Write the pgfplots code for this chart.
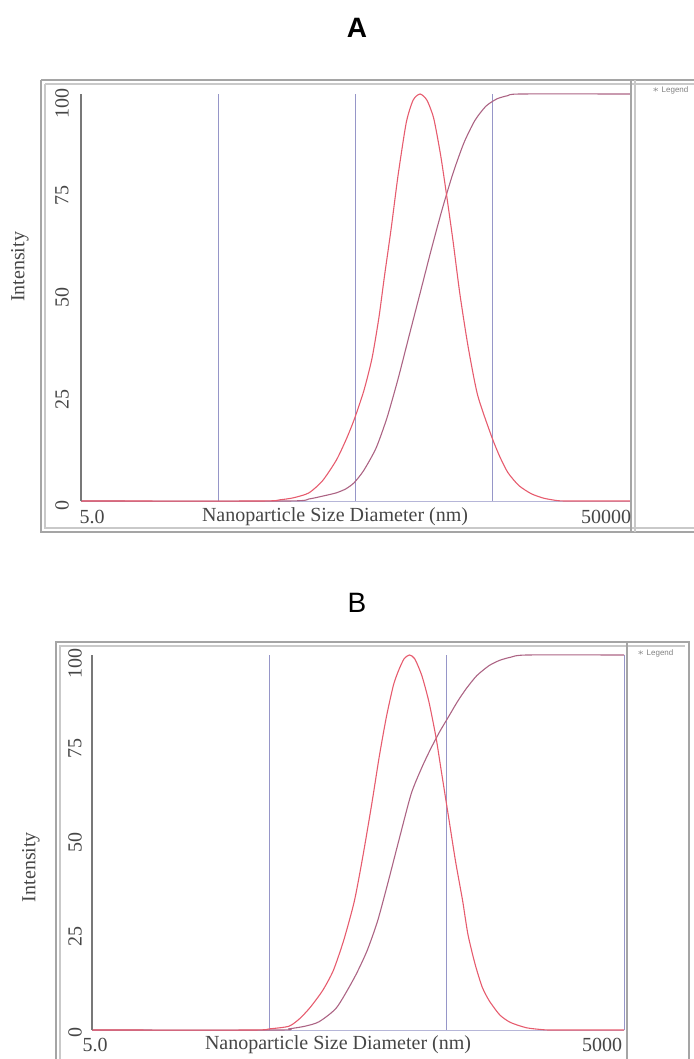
\documentclass[border=0pt]{standalone}
\usepackage{fontspec}
\setmainfont{Liberation Serif}
\newfontfamily\sansf{Liberation Sans}
\usepackage{pgfplots}
\pgfplotsset{compat=1.18}

\definecolor{distc}{RGB}{230,92,110}
\definecolor{cumc}{RGB}{172,100,132}
\definecolor{gridc}{RGB}{150,150,200}
\definecolor{framec}{RGB}{165,165,165}
\definecolor{axisc}{RGB}{120,120,120}
\definecolor{txtc}{RGB}{70,70,70}

\tikzset{
  distline/.style={color=distc, line width=0.55pt, smooth, tension=0.4},
  cumline/.style={color=cumc, line width=0.55pt, smooth, tension=0.4},
  ylab/.style={rotate=90, font=\fontsize{10}{12}\selectfont, text=txtc},
}

\begin{document}
\begin{tikzpicture}[x=0.5pt, y=-0.5pt]
  \path[use as bounding box] (0,0) rectangle (693,1059);

  % ---------------- panel A ----------------
  \node[font=\sansf\bfseries\fontsize{14}{16}\selectfont] at (357,28) {A};
  \draw[framec, line width=1pt] (41,80) -- (700,80);
  \draw[framec, line width=1pt] (41,80) -- (41,532) -- (700,532);
  \draw[framec!60, line width=0.6pt] (45,84) -- (700,84);
  \draw[framec!60, line width=0.6pt] (45,84) -- (45,528) -- (700,528);

  \begin{axis}[
      scale only axis,
      at={(40.5pt,-250.5pt)}, anchor=south west,
      width=274.5pt, height=203.5pt,
      xmode=log, xmin=5, xmax=50000, ymin=0, ymax=100,
      axis line style={draw=none},
      xtick={5,50,500,5000,50000}, xticklabels={},
      minor xtick={}, ytick={0,25,50,75,100}, yticklabels={},
      xmajorgrids, grid style={color=gridc, line width=0.45pt},
      major tick length=0pt, minor tick length=0pt,
      tick style={draw=none},
      clip=false]
    \draw[gridc!70, line width=0.45pt] (axis cs:5,0) -- (axis cs:50000,0);
    \addplot[cumline] coordinates {
      (5,0) (158,0) (229,0.5) (288,1.2) (362,2) (426,3) (489,4.5) (574,7.5)
      (706,13) (849,20.5) (1021,30) (1227,40.5) (1476,51) (1774,61.5)
      (2133,71.5) (2565,80.5) (3083,88) (3706,93.5) (4457,97) (5358,98.8)
      (6441,99.6) (7924,100) (50000,100)
    };
    \addplot[distline] coordinates {
      (5,0) (100,0) (141,0.3) (177,0.8) (229,2) (288,5) (362,10) (426,15)
      (489,20) (574,27) (659,35) (740,45) (811,55) (910,67) (1021,80)
      (1172,93) (1315,98.5) (1476,100) (1656,98.5) (1858,94) (2085,85)
      (2286,76) (2565,64) (2877,51) (3304,38) (3881,26) (4886,16) (5610,11)
      (6441,7) (7745,3.8) (9527,1.8) (11720,0.7) (14757,0.1) (17740,0)
      (50000,0)
    };
    \draw[axisc, line width=0.6pt] (axis cs:5,0) -- (axis cs:5,100);
    \node[xshift=-9.5pt, yshift=-2pt, ylab] at (axis cs:5,0) {0};
    \node[xshift=-9.5pt, ylab] at (axis cs:5,25) {25};
    \node[xshift=-9.5pt, ylab] at (axis cs:5,50) {50};
    \node[xshift=-9.5pt, ylab] at (axis cs:5,75) {75};
    \node[xshift=-9.5pt, yshift=-4.5pt, ylab] at (axis cs:5,100) {100};
  \end{axis}

  \draw[framec, line width=0.8pt] (631,80) -- (631,532);
  \draw[framec!60, line width=0.6pt] (635,80) -- (635,532);
  \node[font=\sansf\fontsize{4}{5}\selectfont, text=gray, anchor=west] at (645,90) {$\ast$ Legend};

  \node[ylab] at (20,267) {Intensity};
  \node[font=\fontsize{10}{12}\selectfont, text=txtc] at (92,517) {5.0};
  \node[font=\fontsize{10}{12}\selectfont, text=txtc] at (606,517) {50000};
  \node[font=\fontsize{10}{12}\selectfont, text=txtc] at (335,517) {Nanoparticle Size Diameter (nm)};

  % ---------------- panel B ----------------
  \node[font=\sansf\fontsize{14}{16}\selectfont] at (357,603) {B};
  \draw[framec, line width=1.2pt] (56,1070) -- (56,642) -- (689,642) -- (689,1070);
  \draw[framec!60, line width=0.6pt] (60,1070) -- (60,646) -- (685,646);

  \begin{axis}[
      scale only axis,
      at={(46pt,-515pt)}, anchor=south west,
      width=266pt, height=187.5pt,
      xmode=log, xmin=5, xmax=5000, ymin=0, ymax=100,
      axis line style={draw=none},
      xtick={5,50,500,5000}, xticklabels={},
      minor xtick={}, ytick={0,25,50,75,100}, yticklabels={},
      xmajorgrids, grid style={color=gridc, line width=0.45pt},
      major tick length=0pt, minor tick length=0pt,
      tick style={draw=none},
      clip=false]
    \draw[gridc!70, line width=0.45pt] (axis cs:5,0) -- (axis cs:5000,0);
    \addplot[cumline] coordinates {
      (5,0) (56.1,0) (64.4,0.3) (79.2,1) (95.3,2.2) (119.9,6) (151,14)
      (177.4,21) (203.7,29) (233.9,39.5) (268.5,50.5) (315.5,63) (362.2,70)
      (406.4,75) (456,79.5) (511.7,83.5) (574,87.5) (644,91) (739.5,94.5)
      (869,97.2) (997.6,98.6) (1146,99.4) (1409,100) (5000,100)
    };
    \addplot[distline] coordinates {
      (5,0) (39.7,0) (50,0.3) (64.4,1) (74,3) (84.9,6) (99.8,10.5)
      (114.6,15.8) (131.5,24) (151,34.5) (169.4,47) (190.1,61) (208.5,73)
      (228.6,83.5) (250.6,92) (268.5,96) (287.7,99) (308.3,100) (330.3,99)
      (362.2,94.5) (397.2,87.5) (435.5,78) (466.6,69) (511.7,57) (561,45)
      (615,34.5) (659,25.5) (722.8,17.6) (792.5,11.5) (869,7.8) (997.6,4)
      (1146,2) (1409,0.6) (1734,0.1) (1991,0) (5000,0)
    };
    \draw[axisc, line width=0.6pt] (axis cs:5,0) -- (axis cs:5,100);
    \node[xshift=-8.5pt, yshift=-1pt, ylab] at (axis cs:5,0) {0};
    \node[xshift=-8.5pt, ylab] at (axis cs:5,25) {25};
    \node[xshift=-8.5pt, ylab] at (axis cs:5,50) {50};
    \node[xshift=-8.5pt, ylab] at (axis cs:5,75) {75};
    \node[xshift=-8.5pt, yshift=-4pt, ylab] at (axis cs:5,100) {100};
  \end{axis}

  \draw[framec, line width=0.8pt] (627,642) -- (627,1070);
  \node[font=\sansf\fontsize{4}{5}\selectfont, text=gray, anchor=west] at (630,653) {$\ast$ Legend};

  \node[ylab] at (31,867) {Intensity};
  \node[font=\fontsize{10}{12}\selectfont, text=txtc] at (95,1045) {5.0};
  \node[font=\fontsize{10}{12}\selectfont, text=txtc] at (602,1045) {5000};
  \node[font=\fontsize{10}{12}\selectfont, text=txtc] at (338,1045) {Nanoparticle Size Diameter (nm)};
\end{tikzpicture}
\end{document}
